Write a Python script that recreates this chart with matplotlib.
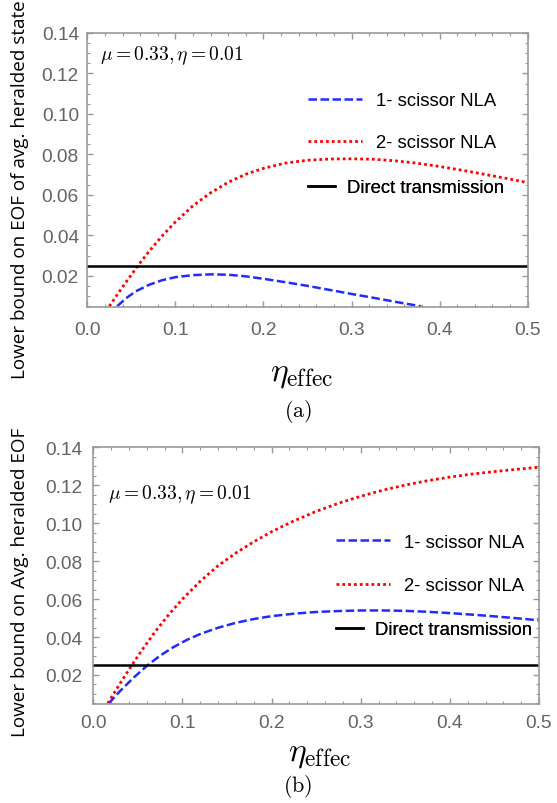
import numpy as np
import matplotlib
matplotlib.use('Agg')
import matplotlib.pyplot as plt
from matplotlib.ticker import MultipleLocator, FormatStrFormatter

plt.rcParams['mathtext.fontset'] = 'cm'
plt.rcParams['font.family'] = ['Liberation Sans', 'DejaVu Sans']

# ---- data (a) ----
eta_a_1 = [0.034, 0.045, 0.055, 0.07, 0.085, 0.10, 0.12, 0.14, 0.16, 0.18, 0.20,
           0.225, 0.25, 0.275, 0.30, 0.325, 0.35, 0.379]
eof_a_1 = [0.005, 0.0092, 0.0123, 0.0155, 0.0178, 0.0193, 0.0203, 0.0207, 0.0205, 0.0197, 0.0185,
           0.0168, 0.0150, 0.0130, 0.0110, 0.0091, 0.0071, 0.0049]
eta_a_2 = [0.025, 0.035, 0.045, 0.058, 0.07, 0.085, 0.10, 0.12, 0.14, 0.16, 0.18, 0.20,
           0.225, 0.25, 0.275, 0.30, 0.325, 0.35, 0.375, 0.40, 0.425, 0.45, 0.475, 0.5]
eof_a_2 = [0.0049, 0.0113, 0.0175, 0.0253, 0.0320, 0.0397, 0.0466, 0.0546, 0.0610, 0.0662, 0.0702, 0.0731,
           0.0757, 0.0771, 0.0777, 0.0778, 0.0776, 0.0768, 0.0756, 0.0740, 0.0722, 0.0702, 0.0682, 0.066]

# ---- data (b) ----
eta_b_1 = [0.0173, 0.03, 0.045, 0.0606, 0.075, 0.09, 0.105, 0.12, 0.14, 0.16, 0.18, 0.20,
           0.225, 0.25, 0.275, 0.30, 0.325, 0.35, 0.375, 0.40, 0.425, 0.45, 0.475, 0.5]
eof_b_1 = [0.005, 0.0115, 0.0185, 0.025, 0.0302, 0.0347, 0.0385, 0.0416, 0.0449, 0.0475, 0.0495, 0.0510,
           0.0523, 0.0532, 0.0537, 0.0540, 0.0540, 0.0538, 0.0533, 0.0526, 0.0518, 0.0509, 0.0499, 0.0488]
eta_b_2 = [0.0162, 0.03, 0.043, 0.055, 0.07, 0.085, 0.10, 0.12, 0.14, 0.16, 0.18, 0.20,
           0.225, 0.25, 0.275, 0.30, 0.325, 0.35, 0.375, 0.40, 0.425, 0.45, 0.475, 0.5]
eof_b_2 = [0.005, 0.0155, 0.0250, 0.0334, 0.0432, 0.0520, 0.0600, 0.0694, 0.0776, 0.0843, 0.0902, 0.0955,
           0.1012, 0.1062, 0.1105, 0.1142, 0.1174, 0.1201, 0.1224, 0.1243, 0.1259, 0.1272, 0.1284, 0.1295]

direct = 0.025
labels = ['1- scissor NLA', '2- scissor NLA', 'Direct transmission']
x_ticks = [0.0, 0.1, 0.2, 0.3, 0.4, 0.5]
y_ticks = [0.02, 0.04, 0.06, 0.08, 0.10, 0.12, 0.14]

W, H = 557, 804
fig = plt.figure(figsize=(W / 100, H / 100), dpi=100)

GRAY = '#999999'
TICKGRAY = '#646464'
LEG_FS = 13.3


def px(x, y):
    # pixel (from top-left) -> figure fraction
    return x / W, 1 - y / H


def make_axes(box, ylabel, d1, d2, ylab_pos, xlab_pos, tick_pads, keys, note_pos):
    l, t, r, b = box
    ax = fig.add_axes([l / W, 1 - b / H, (r - l) / W, (b - t) / H])
    l1, = ax.plot(d1[0], d1[1], color='#1f2bff', lw=1.8, dashes=(3.4, 1.4), label=labels[0])
    l2, = ax.plot(d2[0], d2[1], color='#ff0000', lw=2.0, dashes=(1.0, 1.1), label=labels[1])
    l3 = ax.axhline(direct, color='black', lw=1.8, label=labels[2])

    ax.set_xlim(0, 0.5)
    ax.set_ylim(0.0047, 0.14)
    ax.set_xticks(x_ticks)
    ax.set_yticks(y_ticks)
    ax.xaxis.set_minor_locator(MultipleLocator(0.02))
    ax.yaxis.set_minor_locator(MultipleLocator(0.005))
    ax.xaxis.set_major_formatter(FormatStrFormatter('%.1f'))
    ax.yaxis.set_major_formatter(FormatStrFormatter('%.2f'))
    for s in ax.spines.values():
        s.set_color(GRAY)
        s.set_linewidth(1.2)
    ax.tick_params(which='both', direction='in', top=True, right=True, color=GRAY,
                   labelcolor=TICKGRAY, labelsize=13.8)
    ax.tick_params(which='major', length=4.5, width=1)
    ax.tick_params(which='minor', length=2.5, width=0.8)
    ax.tick_params(axis='x', pad=tick_pads[0])
    ax.tick_params(axis='y', pad=tick_pads[1])

    ax.set_ylabel(ylabel, family='Open Sans', fontsize=13.6, color='black')
    ax.yaxis.set_label_coords(*ylab_pos)
    ax.yaxis.label.set_va('center')
    ax.set_xlabel(r'$\eta_{\rm effec}$', fontsize=24)
    ax.xaxis.set_label_coords(*xlab_pos)
    ax.xaxis.label.set_va('center')

    ax.text(note_pos[0], note_pos[1], r'$\mu = 0.33, \eta = 0.01$', transform=ax.transAxes,
            fontsize=14, ha='left', va='center')

    # legend keys, one per entry (solid key is shorter, like the original)
    for h, (kx, ky, hl, pad) in zip([l1, l2, l3], keys):
        leg = ax.legend(handles=[h], loc='center left', bbox_to_anchor=px(kx, ky),
                        bbox_transform=fig.transFigure, frameon=False, borderpad=0,
                        borderaxespad=0, handlelength=hl, handletextpad=pad,
                        prop={'family': 'Liberation Sans', 'size': LEG_FS})
        ax.add_artist(leg)
    return ax


# panel (a)
make_axes((87.3, 34, 527.7, 307.7), 'Lower bound on EOF of avg. heralded state',
          (eta_a_1, eof_a_1), (eta_a_2, eof_a_2),
          ylab_pos=((20 - 87.3) / 440.4, (307.7 - 190) / 273.7),
          xlab_pos=((302 - 87.3) / 440.4, (307.7 - 375) / 273.7),
          tick_pads=(10, 6),
          keys=[(308, 101.7, 2.92, 0.76), (308, 144, 2.92, 0.76), (308, 189, 1.46, 0.63)],
          note_pos=((100 - 87.3) / 440.4, (307.7 - 56) / 273.7))

# panel (b)
make_axes((93.3, 448.3, 539, 705), 'Lower bound on Avg. heralded EOF',
          (eta_b_1, eof_b_1), (eta_b_2, eof_b_2),
          ylab_pos=((19.6 - 93.3) / 445.7, (705 - 582.5) / 256.7),
          xlab_pos=((320 - 93.3) / 445.7, (705 - 755) / 256.7),
          tick_pads=(7, 8),
          keys=[(336, 543.3, 2.92, 0.76), (336, 586.7, 2.92, 0.76), (336, 631, 1.46, 0.63)],
          note_pos=((107.7 - 93.3) / 445.7, (705 - 495) / 256.7))

fig.text(*px(298, 412), r'$\mathrm{(a)}$', fontsize=16, ha='center', va='center')
fig.text(*px(298, 786.7), r'$\mathrm{(b)}$', fontsize=16, ha='center', va='center')

fig.savefig('out.png', dpi=100)
plt.close(fig)
